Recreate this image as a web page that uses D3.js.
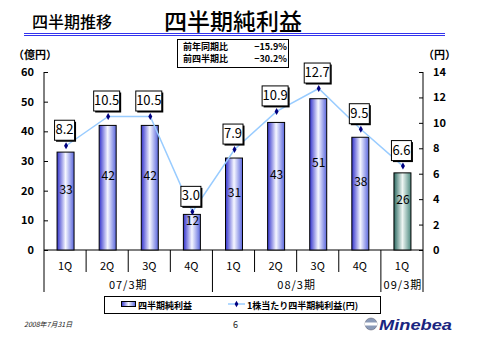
<!DOCTYPE html>
<html><head><meta charset="utf-8">
<script src="https://cdn.jsdelivr.net/npm/d3@7"></script>
<style>body{margin:0;background:#fff}svg{display:block}</style>
</head><body>
<svg id="c" width="480" height="340"></svg>
<script>
const quarters = ["1Q","2Q","3Q","4Q","1Q","2Q","3Q","4Q","1Q"];
const periods = [{label:"07/3期", start:0, end:4},{label:"08/3期", start:4, end:8},{label:"09/3期", start:8, end:9}];
const netIncome = [33,42,42,12,31,43,51,38,26];
const eps = [8.2,10.5,10.5,3.0,7.9,10.9,12.7,9.5,6.6];
const epsLabels = ["8.2","10.5","10.5","3.0","7.9","10.9","12.7","9.5","6.6"];
const leftTicks = [0,10,20,30,40,50,60];
const rightTicks = [0,2,4,6,8,10,12,14];

const svg = d3.select("#c");
const JP = "'Noto Sans CJK JP','Noto Sans',sans-serif";
const X0 = 44, X1 = 423, Y0 = 72, Y1 = 250;

const x = d3.scaleBand().domain(d3.range(quarters.length)).range([X0, X1]).padding(0);
const yL = d3.scaleLinear().domain([0,60]).range([Y1, Y0]);
const yR = d3.scaleLinear().domain([0,14]).range([Y1, Y0]);

const defs = svg.append("defs");
function grad(id, c1, c2, c3){
  const g = defs.append("linearGradient").attr("id", id).attr("x1","0%").attr("x2","100%").attr("y1","0%").attr("y2","0%");
  g.append("stop").attr("offset","0%").attr("stop-color",c1);
  g.append("stop").attr("offset","50%").attr("stop-color",c2);
  g.append("stop").attr("offset","100%").attr("stop-color",c3);
}
grad("gb","#3232cc","#f6f7ff","#5a66dd");
grad("gg","#2c6a62","#eef6f3","#4d8a80");

// Title
svg.append("text").attr("x",32).attr("y",28).attr("font-family",JP).attr("font-size",16).attr("font-weight",500).attr("fill","#000").text("四半期推移");
svg.append("text").attr("x",164).attr("y",30).attr("font-family",JP).attr("font-size",23).attr("font-weight",500).attr("fill","#000").text("四半期純利益");
svg.append("line").attr("x1",24).attr("x2",445).attr("y1",33.5).attr("y2",33.5).attr("stroke","#3333ee").attr("stroke-width",1);
svg.append("line").attr("x1",24).attr("x2",445).attr("y1",35.5).attr("y2",35.5).attr("stroke","#3333ee").attr("stroke-width",1);

// Comparison box
svg.append("rect").attr("x",177.5).attr("y",39.5).attr("width",111).attr("height",28).attr("fill","#fff").attr("stroke","#000");
const cmp = [["前年同期比","−15.9%"],["前四半期比","−30.2%"]];
cmp.forEach((r,i)=>{
  svg.append("text").attr("x",183).attr("y",50+i*12).attr("font-family",JP).attr("font-size",9).attr("font-weight","bold").text(r[0]);
  svg.append("text").attr("x",287).attr("y",50+i*12).attr("text-anchor","end").attr("font-family",JP).attr("font-size",9).attr("font-weight","bold").text(r[1]);
});

// Units
svg.append("text").attr("x",13).attr("y",59).attr("font-family",JP).attr("font-size",11).attr("font-weight","bold").text("（億円）");
svg.append("text").attr("x",423).attr("y",59).attr("font-family",JP).attr("font-size",11).attr("font-weight","bold").text("（円）");

// Axes
const axL = svg.append("g").attr("transform",`translate(${X0},0)`).call(d3.axisLeft(yL).tickValues(leftTicks).tickSize(-4).tickPadding(10));
const axR = svg.append("g").attr("transform",`translate(${X1},0)`).call(d3.axisRight(yR).tickValues(rightTicks).tickSize(-4).tickPadding(10));
[axL,axR].forEach(a=>{
  a.select(".domain").remove();
  a.selectAll("line").attr("stroke","#000");
  a.selectAll("text").attr("font-family",JP).attr("font-size",11).attr("font-weight","bold").attr("fill","#000");
});
svg.append("line").attr("x1",X0).attr("x2",X0).attr("y1",Y0).attr("y2",292).attr("stroke","#000");
svg.append("line").attr("x1",X1).attr("x2",X1).attr("y1",Y0).attr("y2",292).attr("stroke","#000");
svg.append("line").attr("x1",X0).attr("x2",X1).attr("y1",Y1).attr("y2",Y1).attr("stroke","#000");

// Category separators
const starts = new Set(periods.map(p=>p.start));
d3.range(1, quarters.length).forEach(i=>{
  const xx = x(i);
  svg.append("line").attr("x1",xx).attr("x2",xx).attr("y1",Y1).attr("y2",starts.has(i)?292:272).attr("stroke","#000");
});
quarters.forEach((q,i)=>{
  svg.append("text").attr("x",x(i)+x.bandwidth()/2).attr("y",270).attr("text-anchor","middle")
    .attr("font-family",JP).attr("font-size",11).attr("fill","#000").text(q);
});
periods.forEach(p=>{
  const cx = (x(p.start) + (p.end<quarters.length ? x(p.end) : X1))/2;
  svg.append("text").attr("x",cx + (p.end-p.start===1?1:0)).attr("y",289).attr("text-anchor","middle")
    .attr("font-family",JP).attr("font-size",11).attr("letter-spacing",1).attr("fill","#000").text(p.label);
});

// Bars
const bw = 17;
svg.append("g").selectAll("rect").data(netIncome).join("rect")
  .attr("x",(d,i)=>x(i)+x.bandwidth()/2-bw/2+0.5)
  .attr("y",d=>yL(d)).attr("width",bw).attr("height",d=>Y1-yL(d))
  .attr("fill",(d,i)=>i===netIncome.length-1?"url(#gg)":"url(#gb)")
  .attr("stroke","#000").attr("stroke-width",1);
svg.append("g").selectAll("text").data(netIncome).join("text")
  .attr("x",(d,i)=>x(i)+x.bandwidth()/2+1)
  .attr("y",d=>(yL(d)+Y1)/2-12+4.5).attr("text-anchor","middle")
  .attr("font-family",JP).attr("font-size",12).attr("fill","#000").text(d=>d);

// Line
const line = d3.line().x((d,i)=>x(i)+x.bandwidth()/2+1).y(d=>yR(d));
svg.append("path").datum(eps).attr("d",line).attr("fill","none").attr("stroke","#99ccff").attr("stroke-width",1.5);
svg.append("g").selectAll("path").data(eps).join("path")
  .attr("d",d3.symbol(d3.symbolDiamond,14))
  .attr("transform",(d,i)=>`translate(${x(i)+x.bandwidth()/2+1},${yR(d)})`)
  .attr("fill","#000080");

// EPS labels
const lg = svg.append("g");
eps.forEach((d,i)=>{
  const t = epsLabels[i];
  const w = t.length===3?20:26;
  const cx = x(i)+x.bandwidth()/2 - 1;
  const by = yR(d) - 6;
  lg.append("rect").attr("x",cx-w/2+2).attr("y",by-20+2).attr("width",w).attr("height",20).attr("fill","#000");
  lg.append("rect").attr("x",cx-w/2+0.5).attr("y",by-20+0.5).attr("width",w).attr("height",20).attr("fill","#fff").attr("stroke","#000");
  lg.append("text").attr("x",cx+0.5).attr("y",by-5.5).attr("text-anchor","middle")
    .attr("font-family",JP).attr("font-size",13).attr("fill","#000").text(t);
});

// Legend
svg.append("rect").attr("x",104.5).attr("y",296.5).attr("width",276).attr("height",17).attr("fill","#fff").attr("stroke","#000");
svg.append("rect").attr("x",121.5).attr("y",301.5).attr("width",14).attr("height",5).attr("fill","url(#gb)").attr("stroke","#000");
svg.append("text").attr("x",138).attr("y",308.5).attr("font-family",JP).attr("font-size",9).attr("font-weight","bold").text("四半期純利益");
svg.append("line").attr("x1",228).attr("x2",245).attr("y1",304).attr("y2",304).attr("stroke","#99ccff").attr("stroke-width",1.5);
svg.append("path").attr("d",d3.symbol(d3.symbolDiamond,12)).attr("transform","translate(236.5,304)").attr("fill","#000080");
svg.append("text").attr("x",247).attr("y",308.5).attr("font-family",JP).attr("font-size",9).attr("font-weight","bold").text("1株当たり四半期純利益(円)");

// Footer
svg.append("text").attr("x",24).attr("y",327).attr("font-family",JP).attr("font-size",7).attr("font-style","italic").attr("fill","#222").text("2008年7月31日");
svg.append("text").attr("x",233).attr("y",328).attr("font-family",JP).attr("font-size",9).attr("fill","#222").text("6");
const lgG = svg.append("g");
lgG.append("circle").attr("cx",371).attr("cy",324).attr("r",6).attr("fill","#8a9ab8").attr("stroke","#556").attr("stroke-width",0.5);
lgG.append("rect").attr("x",365).attr("y",322.5).attr("width",12).attr("height",3).attr("fill","#fff");
lgG.append("text").attr("x",379).attr("y",330).attr("font-family","'Liberation Sans',Arial,sans-serif").attr("font-size",15)
  .attr("font-weight","bold").attr("font-style","italic").attr("fill","#1a2580").attr("textLength",73).attr("lengthAdjust","spacingAndGlyphs").text("Minebea");
</script>
</body></html>
